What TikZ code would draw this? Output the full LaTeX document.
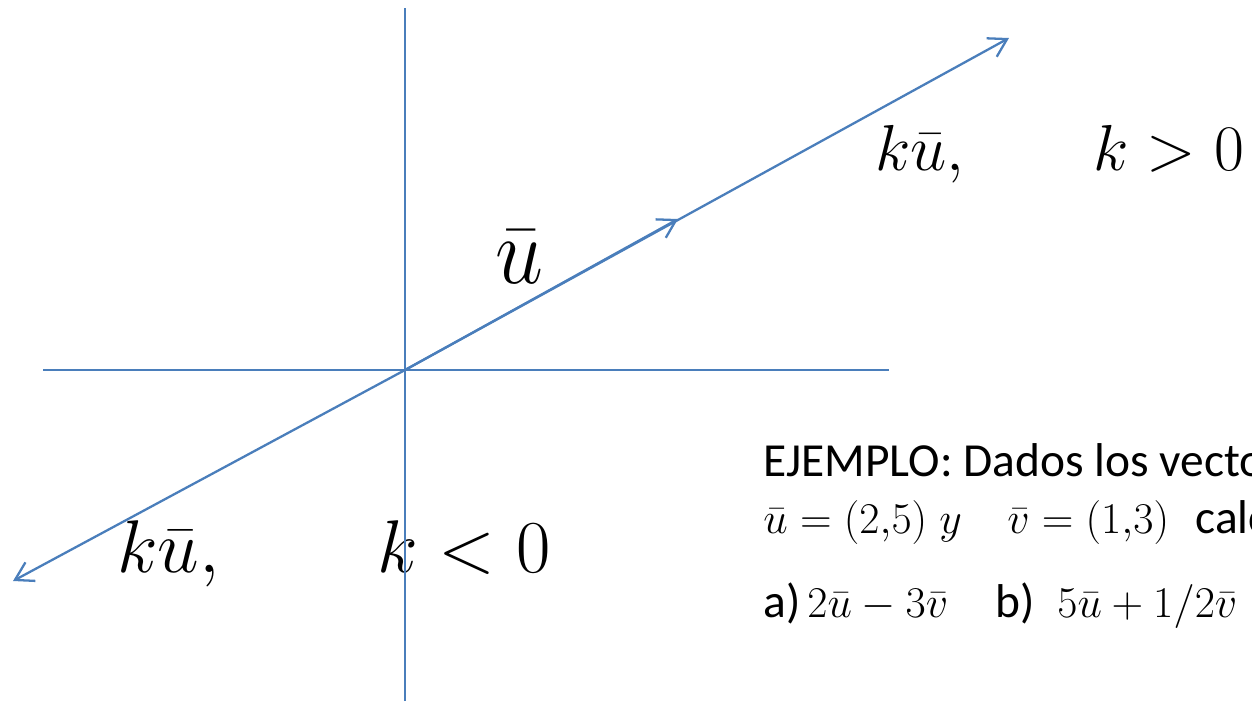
\RequirePackage{fix-cm}
\documentclass[tikz,border=0pt]{standalone}
\usepackage[no-math]{fontspec}
\setmainfont{Carlito}
\usepackage{tikz}
\usetikzlibrary{arrows.meta, positioning}
\definecolor{axisblue}{RGB}{74,126,187}

\begin{document}
\begin{tikzpicture}[
  x=0.02cm, y=-0.02cm,
  axis/.style={axisblue, line width=1.3pt},
  arr/.style={axis, -{Straight Barb[length=10pt, width=12pt]}},
  lbl/.style={anchor=base west, inner sep=0pt},
  txt/.style={lbl, font=\fontsize{27}{32}\selectfont},
  mth/.style={lbl, font=\fontsize{25}{30}\selectfont}
]
  \clip (0,0) rectangle (1252,701);

  % labels of the vectors
  \node[lbl, font=\fontsize{49}{52}\selectfont] (u) at (495,283) {\scalebox{1}[1.1]{$\bar{u}$}};
  \node[lbl, font=\fontsize{37}{40}\selectfont] (kpos) at (875,170) {$k\bar{u},$};
  \node[lbl, font=\fontsize{37}{40}\selectfont] (kgt) at (1093,170) {$k>0$};
  \node[lbl, font=\fontsize{42.5}{46}\selectfont] (kneg) at (117,572) {$k\bar{u},$};
  \node[lbl, font=\fontsize{42.5}{46}\selectfont] (klt) at (377,572) {$k<0$};

  % axes and vectors
  \coordinate (O) at (405,370);
  \coordinate (top) at (405,8);
  \coordinate (bot) at (405,701);
  \coordinate (xl) at (43,370);
  \coordinate (xr) at (889,370);
  \coordinate (tipP) at (1009,38);
  \coordinate (tipN) at (13,581);
  \coordinate (tipU) at (678,219);

  \draw[axis] (bot) -- (top);
  \draw[axis] (xl) -- (xr);
  \draw[arr] (O) -- (tipP);
  \draw[arr] (O) -- (tipN);
  \draw[arr] (O) -- (tipU);

  % example
  \node[txt] (ej) at (763,476) {EJEMPLO: Dados los vectores};
  \node[mth] (udef) at (763,533) {$\bar{u}=(2{,}5)\;y$};
  \node[mth] (vdef) at (1007,533) {$\bar{v}=(1{,}3)$};
  \node[txt] (calc) at (1195,533) {calcular};
  \node[txt] (ia) at (763,617) {a)};
  \node[mth] (suma) at (807,617) {$2\bar{u}-3\bar{v}$};
  \node[txt] (ib) at (995,617) {b)};
  \node[mth] (sumb) at (1057,617) {$5\bar{u}+1/2\bar{v}$};
\end{tikzpicture}
\end{document}
